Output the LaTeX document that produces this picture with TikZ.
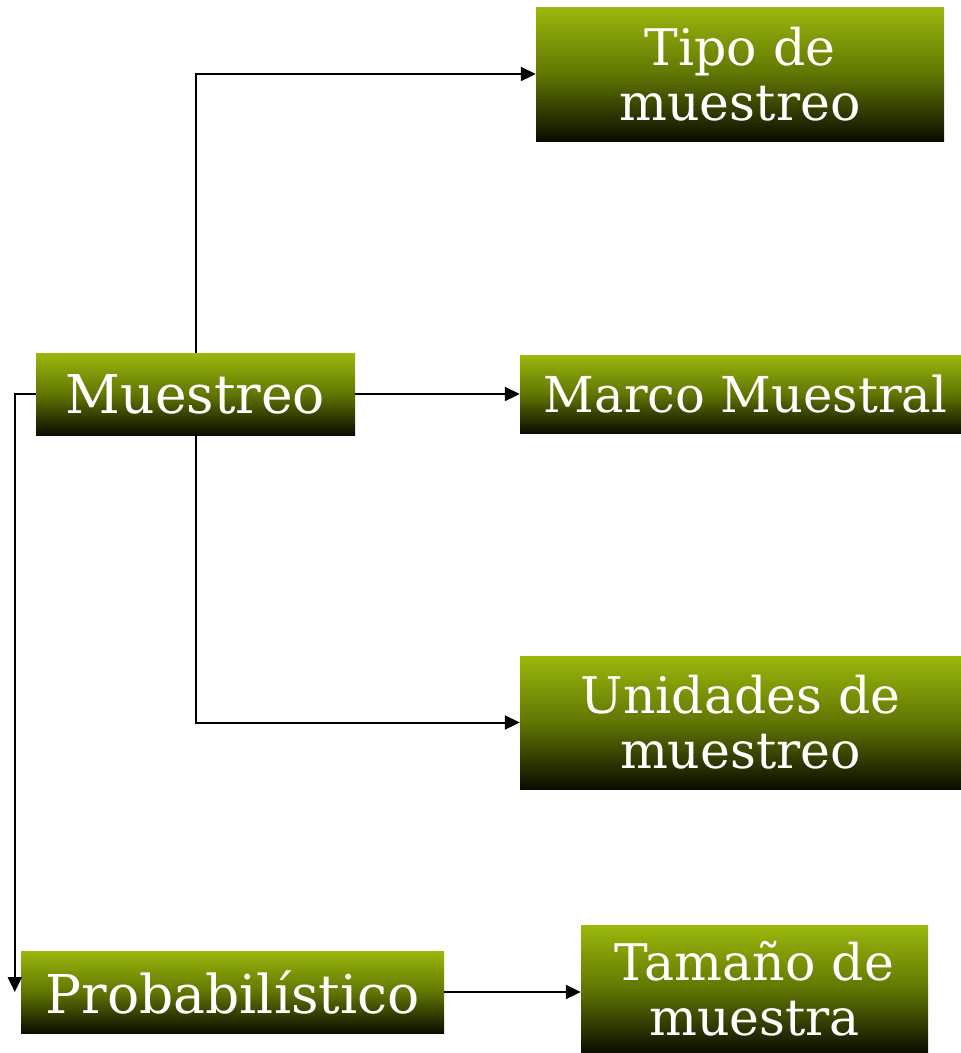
\documentclass[tikz,border=0pt]{standalone}
\usepackage{fontspec}
\setmainfont{DejaVu Serif}
\usetikzlibrary{arrows.meta}
\definecolor{gtop}{RGB}{155,184,12}
\definecolor{gmid}{RGB}{96,118,2}
\definecolor{gbot}{RGB}{12,12,0}
\tikzset{
  box/.style={rectangle, inner sep=0pt, top color=gtop, bottom color=gbot, middle color=gmid,
    text=white, align=center, font=\fontsize{50.5}{55}\selectfont},
  bigtext/.style={font=\fontsize{53.5}{55}\selectfont},
  conn/.style={line width=2pt, -{Triangle[length=15pt,width=14pt]}}
}
\begin{document}
\begin{tikzpicture}[x=1pt,y=-1pt]
\useasboundingbox (0,0) rectangle (961,1053);
\node[box, minimum width=408pt, minimum height=134pt] (tipo) at (740,74) {Tipo de\\muestreo};
\node[box, bigtext, minimum width=319pt, minimum height=82pt] (mu) at (195.5,394) {Muestreo};
\node[box, minimum width=441pt, minimum height=78pt, font=\fontsize{49.5}{50}\selectfont] (marco) at (740.5,394) {\hspace{10pt}Marco Muestral};
\node[box, minimum width=441pt, minimum height=133pt] (uni) at (740.5,722.5) {Unidades de\\muestreo};
\node[box, bigtext, minimum width=423pt, minimum height=82pt] (pr) at (232.5,992) {Probabilístico};
\node[box, minimum width=347pt, minimum height=128pt] (tam) at (754.5,989) {Tamaño de\\muestra};
\draw[conn] (mu.north) |- (tipo.west);
\draw[conn] (mu.east) -- (marco.west);
\draw[conn] (mu.south) |- (uni.west);
\draw[conn] (mu.west) -| ([xshift=-6pt]pr.west);
\draw[conn] (pr.east) -- (pr.east -| tam.west);
\end{tikzpicture}
\end{document}
